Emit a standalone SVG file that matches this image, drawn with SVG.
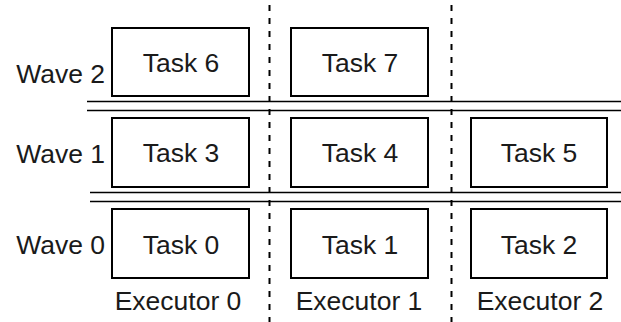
<svg xmlns="http://www.w3.org/2000/svg" width="621" height="322" viewBox="0 0 621 322">
<style>
.box{fill:#fff;stroke:#000;stroke-width:2}
.t{font-family:"Liberation Sans",Arial,sans-serif;font-size:26.5px;fill:#1a1a1a;text-anchor:middle}
.w{font-family:"Liberation Sans",Arial,sans-serif;font-size:26.5px;fill:#1a1a1a;text-anchor:end}
.sep{stroke:#000;stroke-width:1.6;fill:none}
.dash{stroke:#000;stroke-width:2;stroke-dasharray:6 7;fill:none}
</style>
<rect width="621" height="322" fill="#fff"/>
<g id="connectors">
<line class="sep" x1="87" y1="101.5" x2="621" y2="101.5"/>
<line class="sep" x1="87" y1="110.5" x2="621" y2="110.5"/>
<line class="sep" x1="90" y1="192.5" x2="621" y2="192.5"/>
<line class="sep" x1="90" y1="201.5" x2="621" y2="201.5"/>
<line class="dash" x1="269.5" y1="5" x2="269.5" y2="322"/>
<line class="dash" x1="451.5" y1="5" x2="451.5" y2="322"/>
</g>
<g id="wave2"><text class="w" x="105" y="83">Wave 2</text></g>
<g id="wave1"><text class="w" x="105" y="163">Wave 1</text></g>
<g id="wave0"><text class="w" x="105" y="254">Wave 0</text></g>
<g id="task6"><rect class="box" x="112" y="28" width="137" height="68"/><text class="t" x="181" y="72">Task 6</text></g>
<g id="task7"><rect class="box" x="291" y="28" width="137" height="68"/><text class="t" x="360" y="72">Task 7</text></g>
<g id="task3"><rect class="box" x="112" y="118" width="137" height="69"/><text class="t" x="181" y="162">Task 3</text></g>
<g id="task4"><rect class="box" x="291" y="118" width="137" height="69"/><text class="t" x="360" y="162">Task 4</text></g>
<g id="task5"><rect class="box" x="471" y="118" width="136" height="69"/><text class="t" x="539" y="162">Task 5</text></g>
<g id="task0"><rect class="box" x="112" y="209" width="137" height="69"/><text class="t" x="181" y="254">Task 0</text></g>
<g id="task1"><rect class="box" x="291" y="209" width="137" height="69"/><text class="t" x="360" y="254">Task 1</text></g>
<g id="task2"><rect class="box" x="471" y="209" width="136" height="69"/><text class="t" x="539" y="254">Task 2</text></g>
<g id="executor0"><text class="t" x="178" y="310">Executor 0</text></g>
<g id="executor1"><text class="t" x="359" y="310">Executor 1</text></g>
<g id="executor2"><text class="t" x="540" y="310">Executor 2</text></g>
</svg>
